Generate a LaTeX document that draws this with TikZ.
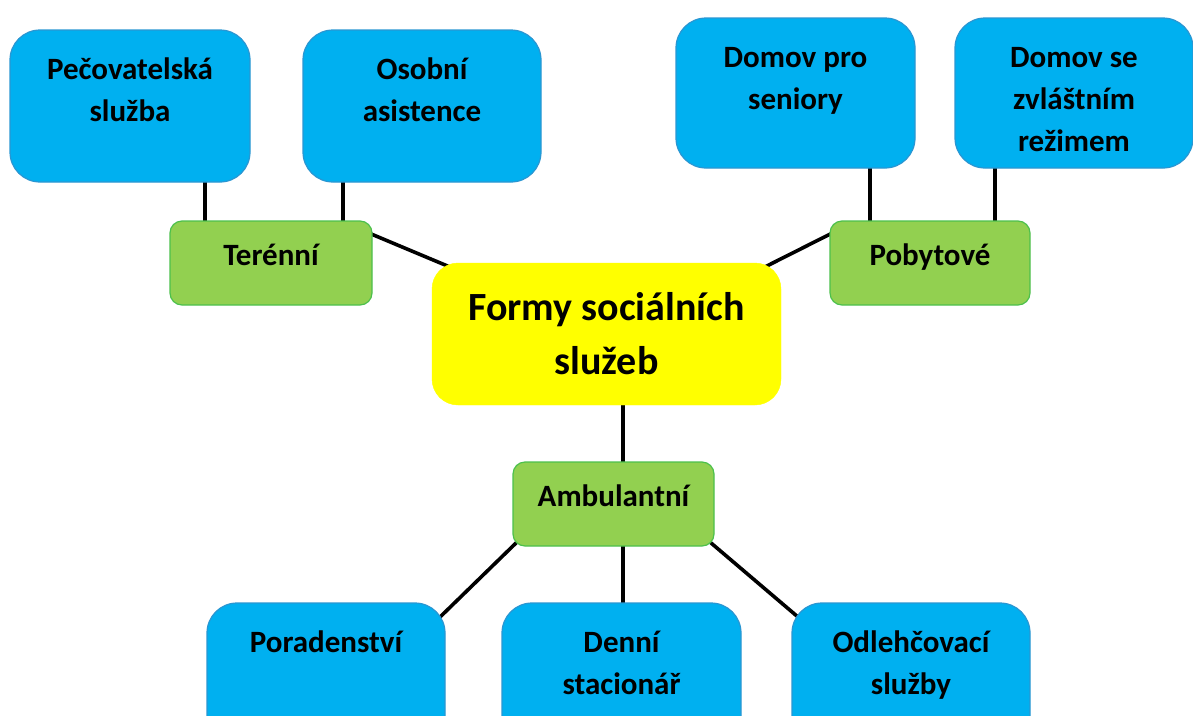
\documentclass[tikz,border=0pt]{standalone}
\usepackage{fontspec}
\setmainfont{Carlito}
\usepackage{tikz}
\usetikzlibrary{positioning,calc,backgrounds}
\definecolor{sblue}{HTML}{00B0F0}
\definecolor{sblueedge}{HTML}{2A96D2}
\definecolor{sgreen}{HTML}{92D050}
\definecolor{sgreenedge}{HTML}{4CC04C}
\definecolor{syellow}{HTML}{FFFF00}
\tikzset{
  leaf/.style={fill=sblue,draw=sblueedge,line width=1.2pt,rounded corners=30pt,inner xsep=10pt,inner ysep=17.6pt,font=\fontsize{31}{42}\selectfont\bfseries},
  branch/.style={fill=sgreen,draw=sgreenedge,line width=1.2pt,rounded corners=12pt,inner xsep=10pt,inner ysep=12.6pt,font=\fontsize{31}{42}\selectfont\bfseries},
  hub/.style={fill=syellow,draw=syellow,rounded corners=26pt,inner xsep=10pt,inner ysep=17.2pt,font=\fontsize{40}{54}\selectfont\bfseries},
  link/.style={line width=3.6pt,draw=black},
}
\newcommand{\toptext}[3]{\parbox[c][#1][t]{#2}{\vspace*{2pt}\centering\strut #3}}

\begin{document}
\begin{tikzpicture}[x=1pt,y=-1pt]
\useasboundingbox (0,0) rectangle (1193,715);
\clip (0,0) rectangle (1193,715);
\node[hub] (formy) at (606.5,334) {\toptext{107.6pt}{329pt}{Formy sociálních\\služeb}};
% ctyri vetve
\node[branch] (ter) at (271,263) {\toptext{58.8pt}{182pt}{Terénní}};
\node[branch] (pob) at (930,263) {\toptext{58.8pt}{180pt}{Pobytové}};
\node[branch] (amb) at (613.5,504) {\toptext{58.8pt}{181pt}{Ambulantní}};
% listy
\node[leaf] (pec) at (130,106) {\toptext{116.8pt}{220pt}{Pečovatelská\\služba}};
\node[leaf] (osob) at (422,106) {\toptext{116.8pt}{218pt}{Osobní\\asistence}};
\node[leaf] (domsen) at (795.5,93) {\toptext{114.8pt}{219pt}{Domov pro\\seniory}};
\node[leaf] (domzv) at (1074,93) {\toptext{114.8pt}{218pt}{Domov se\\zvláštním\\režimem}};
\node[leaf] (por) at (326,679) {\toptext{116.8pt}{218pt}{Poradenství}};
\node[leaf] (den) at (621.5,679) {\toptext{116.8pt}{219pt}{Denní\\stacionář}};
\node[leaf] (odl) at (911,679) {\toptext{116.8pt}{218pt}{Odlehčovací\\služby}};
\begin{scope}[on background layer]
\draw[link] ([xshift=75pt]pec.center) -- ([xshift=75pt]pec.center |- ter.center);
\draw[link] ([xshift=-79pt]osob.center) -- ([xshift=-79pt]osob.center |- ter.center);
\draw[link] ([xshift=74.5pt]domsen.center) -- ([xshift=74.5pt]domsen.center |- pob.center);
\draw[link] ([xshift=-79pt]domzv.center) -- ([xshift=-79pt]domzv.center |- pob.center);
\draw[link] ([shift={(-10pt,-10pt)}]ter.north east) -- ([shift={(20pt,-5pt)}]formy.north west);
\draw[link] ([shift={(10pt,-9pt)}]pob.north west) -- ([shift={(-16pt,-4pt)}]formy.north east);
\draw[link] ([xshift=16.5pt]formy.center) -- ([xshift=16.5pt]formy.center |- amb.center);
\draw[link] ([xshift=9.5pt]amb.center) -- ([xshift=9.5pt]amb.center |- den.center);
\draw[link] ([shift={(4pt,4pt)}]amb.south west) -- ([shift={(-8pt,-17pt)}]por.north east);
\draw[link] ([shift={(-4pt,4pt)}]amb.south east) -- ([shift={(8pt,-15.8pt)}]odl.north west);
\end{scope}
\end{tikzpicture}
\end{document}
